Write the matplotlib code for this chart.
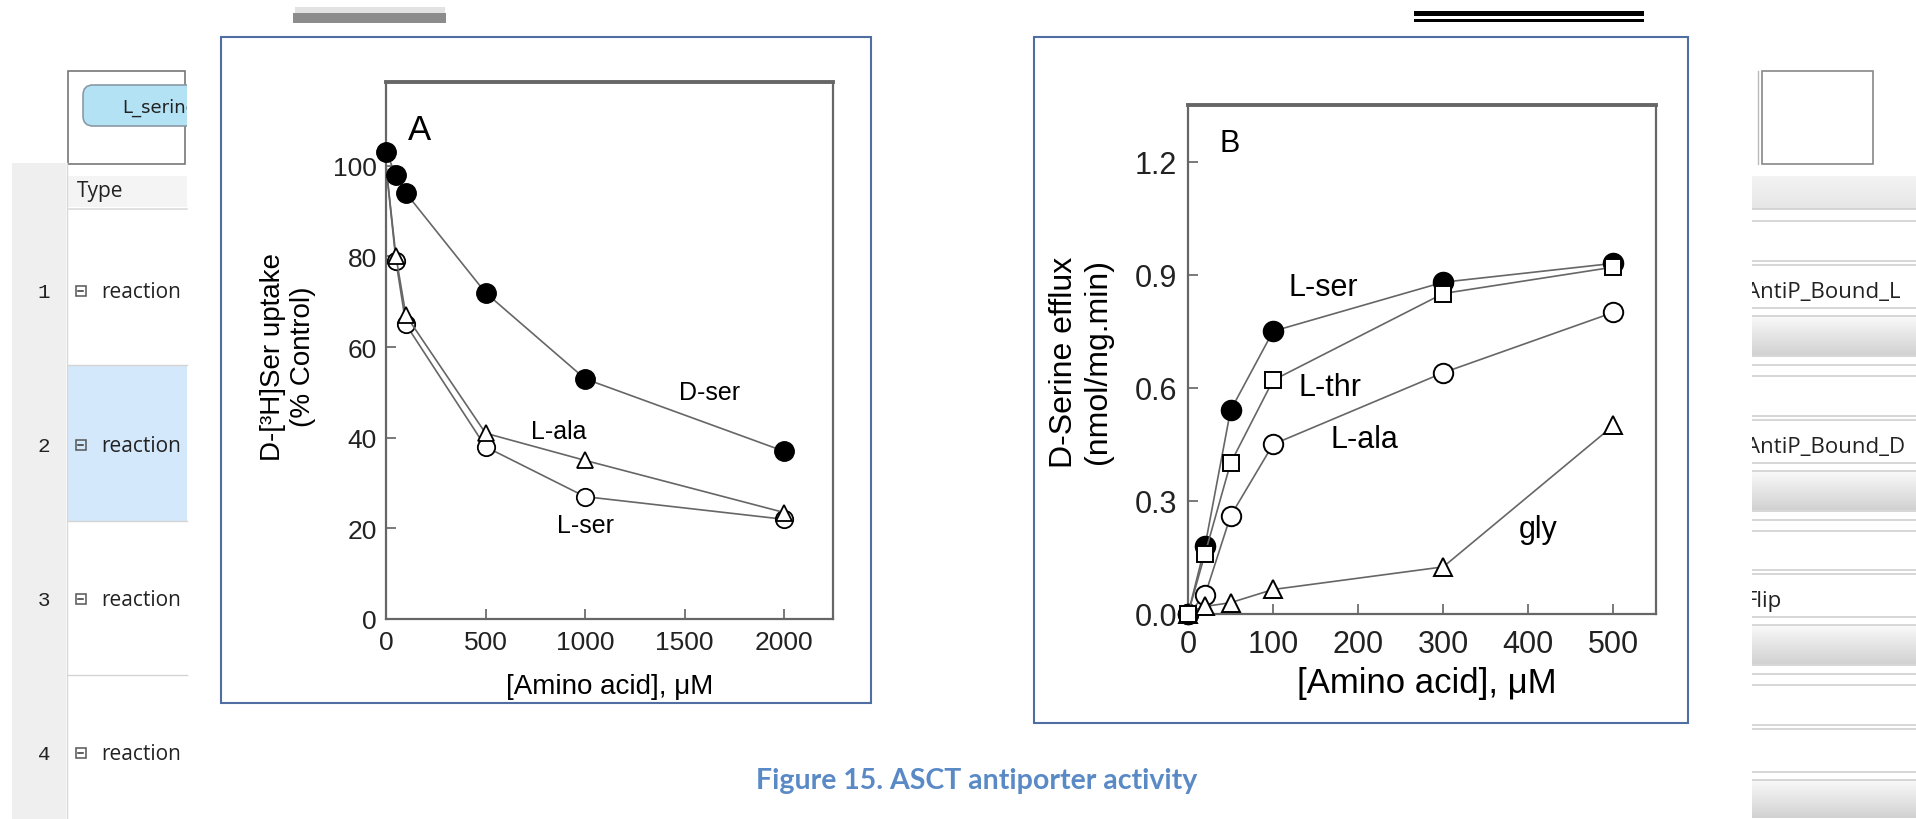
import matplotlib
matplotlib.use('Agg')
import matplotlib.pyplot as plt
from matplotlib.patches import Rectangle, FancyBboxPatch
from matplotlib.colors import LinearSegmentedColormap
from matplotlib.ticker import FormatStrFormatter
import numpy as np

plt.rcParams['font.family'] = ['Liberation Sans', 'DejaVu Sans']

# panel A: D-[3H]Ser uptake (% control) against amino acid concentration
conc_a = [0, 50, 100, 500, 1000, 2000]
dser_a = [103, 98, 94, 72, 53, 37]
lala_a = [100, 80, 67, 41, 35, 23.5]
lser_a = [100, 79, 65, 38, 27, 22]
ticks_a_x = [0, 500, 1000, 1500, 2000]
ticks_a_y = [0, 20, 40, 60, 80, 100]

# panel B: D-serine efflux against amino acid concentration
conc_b = [0, 20, 50, 100, 300, 500]
lser_b = [0, 0.18, 0.54, 0.75, 0.88, 0.93]
lthr_b = [0, 0.16, 0.40, 0.62, 0.85, 0.92]
lala_b = [0, 0.05, 0.26, 0.45, 0.64, 0.80]
gly_b = [0, 0.02, 0.03, 0.065, 0.125, 0.50]
ticks_b_x = [0, 100, 200, 300, 400, 500]
ticks_b_y = [0.0, 0.3, 0.6, 0.9, 1.2]

# the table in the background of the screenshot
row_nums = ['1', '2', '3', '4']
row_types = ['reaction', 'reaction', 'reaction', 'reaction']
right_names = ['AntiP_Bound_L', 'AntiP_Bound_D', 'Flip', '']
caption = 'Figure 15. ASCT antiporter activity'

W, H = 1916, 820
fig = plt.figure(figsize=(W / 100, H / 100), dpi=100)


def px(x0, y0, x1, y1):
    return [x0 / W, 1 - y1 / H, (x1 - x0) / W, (y1 - y0) / H]


# ---- background (screenshot of the table) ----
bg = fig.add_axes([0, 0, 1, 1])
bg.axis('off')
band = LinearSegmentedColormap.from_list('band', ['#f8f8f8', '#d2d2d2'])
grad = np.linspace(0, 1, 30).reshape(-1, 1)
line_c = '#cfcfcf'

# left table
bg.add_patch(Rectangle((12, 164), 54, 660, color='#efefef', lw=0))
bg.plot([67, 67], [164, 820], color='#d8d8d8', lw=1)
bg.add_patch(Rectangle((68, 177), 119, 31, color='#f4f4f4', lw=0))
bg.plot([68, 187], [210, 210], color='#dcdcdc', lw=1.2)
bg.text(77, 192, 'Type', fontsize=15, family='Open Sans', va='center', color='#222')
bg.add_patch(Rectangle((68, 366), 119, 156, color='#d4e8fb', lw=0))
for yy in [366, 522, 676]:
    bg.plot([68, 187], [yy, yy], color='#d4d4d4', lw=1)
for i, (n, t) in enumerate(zip(row_nums, row_types)):
    yc = 293 + 154 * i
    bg.text(44, yc, n, fontsize=15, family='Liberation Mono', ha='center', va='center', color='#222')
    bg.add_patch(Rectangle((76, yc - 6), 10, 10, fill=False, ec='#555', lw=1.1))
    bg.plot([78.5, 83.5], [yc - 1, yc - 1], color='#333', lw=1.1)
    bg.text(101, yc, t, fontsize=15, family='Open Sans', va='center', color='#222')

# top left box with the clipped button
bg.add_patch(Rectangle((68, 72), 117, 93, fill=False, ec='#777', lw=1.2))
bg.add_patch(FancyBboxPatch((83, 86), 120, 41, boxstyle='round,pad=0,rounding_size=10',
                            fc='#b3e2f5', ec='#8a9aa6', lw=1.2))
bg.text(122, 108, 'L_serine', fontsize=13, family='Liberation Sans Narrow', va='center', color='#222')
bg.add_patch(Rectangle((187, 60), 34, 110, color='white', lw=0, zorder=5))

# right table
bg.add_patch(Rectangle((1762, 72), 111, 93, fill=False, ec='#888', lw=1.2))
bg.plot([1758, 1758], [72, 165], color='#bbb', lw=1)
bg.imshow(grad, cmap=LinearSegmentedColormap.from_list('h', ['#f3f3f3', '#e6e6e6']),
          extent=(1752, 1916, 210, 177), aspect='auto')
for yy in [210, 222]:
    bg.plot([1752, 1916], [yy, yy], color=line_c, lw=1.2)
for i, name in enumerate(right_names):
    y0 = 262 + 154.5 * i
    for dy in [0, 4]:
        bg.plot([1752, 1916], [y0 + dy, y0 + dy], color=line_c, lw=1.2)
    if name:
        bg.text(1746, y0 + 31, name, fontsize=16, family='Open Sans', va='center', color='#222')
    for dy in [47, 55]:
        bg.plot([1752, 1916], [y0 + dy, y0 + dy], color=line_c, lw=1.2)
    b1 = min(y0 + 94, 820)
    bg.imshow(grad, cmap=band, extent=(1752, 1916, b1, y0 + 56), aspect='auto')
    for dy in [95, 104, 115]:
        if y0 + dy < 820:
            bg.plot([1752, 1916], [y0 + dy, y0 + dy], color=line_c, lw=1.2)
bg.add_patch(Rectangle((1690, 168), 62, 660, color='white', lw=0, zorder=5))

# top decorations
bg.add_patch(Rectangle((295, 8), 150, 7, color='#e2e2e2', lw=0))
bg.add_patch(Rectangle((293, 14), 153, 10, color='#8c8c8c', lw=0))
bg.add_patch(Rectangle((1414, 12), 230, 5, color='black', lw=0))
bg.add_patch(Rectangle((1414, 20), 230, 3, color='black', lw=0))

# panel frames
bg.add_patch(Rectangle((221, 38), 650, 666, fc='white', ec='#4f6fa3', lw=1.5, zorder=6))
bg.add_patch(Rectangle((1034, 38), 654, 686, fc='white', ec='#4f6fa3', lw=1.5, zorder=6))

bg.text(977, 781, caption, fontsize=20.5, family='Lato', weight='bold', color='#5a8ac6',
        ha='center', va='center')
bg.set_xlim(0, W)
bg.set_ylim(H, 0)

# ---- panel A ----
axA = fig.add_axes(px(386, 83, 833, 620))
axB = fig.add_axes(px(1188, 106, 1656, 615))


def style(ax, fs, xpad, ypad):
    for s in ax.spines.values():
        s.set_color('#666')
        s.set_linewidth(1.6)
    ax.spines['top'].set_linewidth(2.8)
    ax.tick_params(direction='in', length=7, width=1.1, color='#555', labelsize=fs, labelcolor='#222')
    ax.tick_params(axis='x', pad=xpad)
    ax.tick_params(axis='y', pad=ypad)


lc = '#666'
skip0 = [1, 2, 3, 4, 5]
axA.plot(conc_a, lser_a, color=lc, lw=1.2, marker='o', ms=12.5, mfc='white', mec='black',
         mew=1.3, markevery=skip0, clip_on=False, zorder=3)
axA.plot(conc_a, lala_a, color=lc, lw=1.2, marker='^', ms=11.5, mfc='white', mec='black',
         mew=1.3, markevery=skip0, clip_on=False, zorder=4)
axA.plot(conc_a, dser_a, color=lc, lw=1.2, marker='o', ms=14, mfc='black', mec='black',
         clip_on=False, zorder=5)
axA.set_xlim(0, 2245)
axA.set_ylim(0, 118.5)
axA.set_xticks(ticks_a_x)
axA.set_yticks(ticks_a_y)
style(axA, 19, 8, 6.5)
axA.text(166, 108, 'A', fontsize=25, ha='center', va='center')
axA.text(1623, 50, 'D-ser', fontsize=18, ha='center', va='center')
axA.text(869, 41.5, 'L-ala', fontsize=18, ha='center', va='center')
axA.text(1000, 20.8, 'L-ser', fontsize=18, ha='center', va='center')

fig.text(288 / W, 1 - 357 / H, 'D-[³H]Ser uptake\n(% Control)', rotation=90, fontsize=20,
         ha='center', va='center', multialignment='center', linespacing=1.2)
fig.text(610 / W, 1 - 687 / H, '[Amino acid], μM', fontsize=20, ha='center', va='center')

# ---- panel B ----
axB.plot(conc_b, lser_b, color=lc, lw=1.2, marker='o', ms=14.5, mfc='black', mec='black',
         clip_on=False, zorder=3)
axB.plot(conc_b, lthr_b, color=lc, lw=1.2, marker='s', ms=12, mfc='white', mec='black',
         mew=1.4, clip_on=False, zorder=4)
axB.plot(conc_b, lala_b, color=lc, lw=1.2, marker='o', ms=14, mfc='white', mec='black',
         mew=1.4, clip_on=False, zorder=3)
axB.plot(conc_b, gly_b, color=lc, lw=1.2, marker='^', ms=13, mfc='white', mec='black',
         mew=1.4, clip_on=False, zorder=3)
axB.set_xlim(0, 550)
axB.set_ylim(0, 1.35)
axB.set_xticks(ticks_b_x)
axB.set_yticks(ticks_b_y)
axB.yaxis.set_major_formatter(FormatStrFormatter('%.1f'))
style(axB, 22, 11, 8)
axB.text(49, 1.249, 'B', fontsize=22, ha='center', va='center')
axB.text(159, 0.867, 'L-ser', fontsize=22, ha='center', va='center')
axB.text(167, 0.602, 'L-thr', fontsize=22, ha='center', va='center')
axB.text(207, 0.464, 'L-ala', fontsize=22, ha='center', va='center')
axB.text(412, 0.225, 'gly', fontsize=22, ha='center', va='center')

fig.text(1081 / W, 1 - 362 / H, 'D-Serine efflux\n(nmol/mg.min)', rotation=90, fontsize=23,
         ha='center', va='center', multialignment='center', linespacing=1.2)
fig.text(1427 / W, 1 - 684 / H, '[Amino acid], μM', fontsize=25, ha='center', va='center')

fig.savefig('out.png', dpi=100)
